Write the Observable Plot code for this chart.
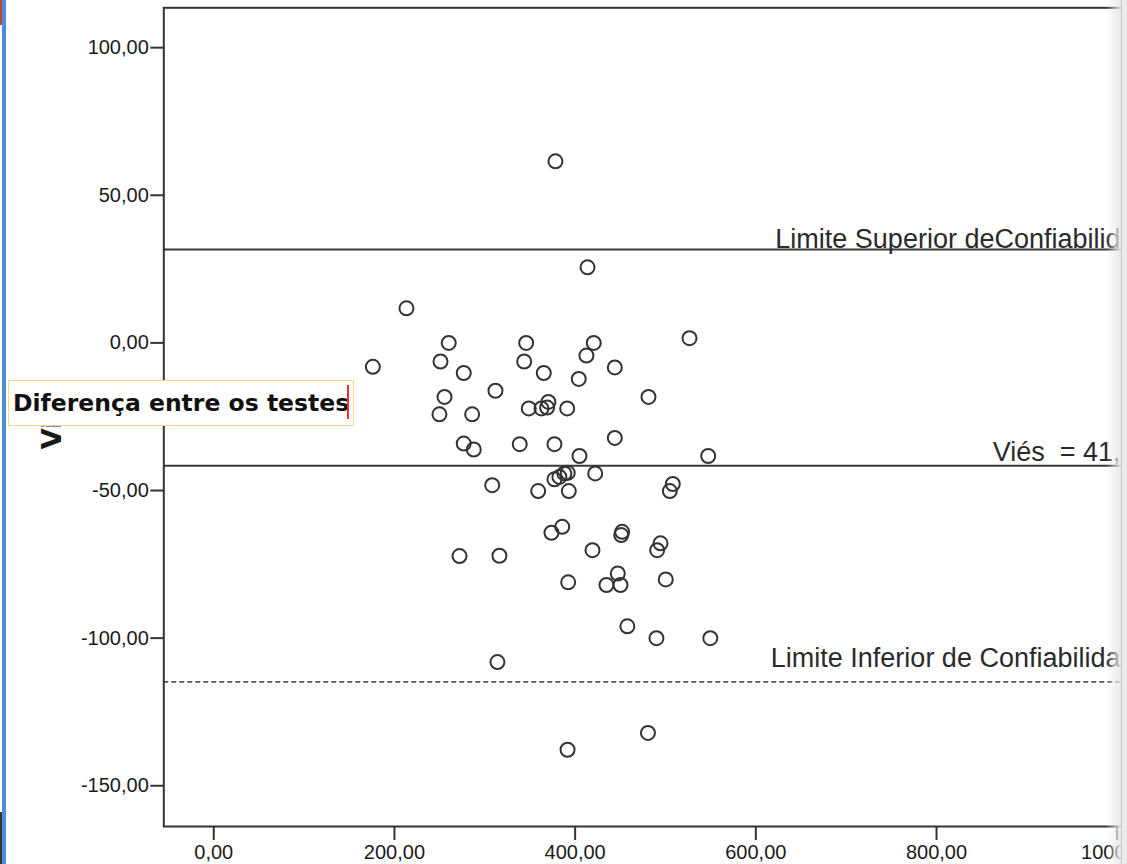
<!DOCTYPE html>
<html>
<head>
<meta charset="utf-8">
<script src="https://cdn.jsdelivr.net/npm/d3@7"></script>
<script src="https://cdn.jsdelivr.net/npm/@observablehq/plot@0.6"></script>
<style>
  html, body { margin: 0; padding: 0; background: #fff; width: 1127px; height: 864px; overflow: hidden; }
  #chart { position: absolute; left: 0; top: 0; }
  #box {
    position: absolute; left: 8px; top: 380px; width: 340px; height: 44px;
    border: 1.5px solid #f5d88c; background: #fff;
    font-family: "DejaVu Sans", sans-serif; font-weight: bold; font-size: 23.5px;
    color: #111; line-height: 44px; padding-left: 4px; box-sizing: content-box; white-space: nowrap;
  }
  #caret { position: absolute; left: 338px; top: 4px; width: 1.5px; height: 34px; background: #e33; }
  #leftbar { position: absolute; left: 2px; top: 0; width: 4px; height: 864px; background: #4a8fd8; }
  #leftred { position: absolute; left: 0; top: 0; width: 2px; height: 25px; background: #c0452a; }
  #leftdark { position: absolute; left: 0; top: 812px; width: 2px; height: 52px; background: #333; }
  #fade { position: absolute; left: 1106px; top: 0; width: 15px; height: 864px;
          background: linear-gradient(to right, rgba(240,240,240,0), rgba(232,232,232,0.95)); }
  #rightbar { position: absolute; left: 1121px; top: 0; width: 6px; height: 864px;
              background: #ececec; border-left: 1px solid #c9c9c9; }
</style>
</head>
<body>
<div id="chart"></div>
<div id="leftred"></div>
<div id="leftdark"></div>
<div id="leftbar"></div>
<div id="fade"></div>
<div id="rightbar"></div>
<script>
// Mean of the two tests (x) and difference between them (y)
const meanValues = [378.2, 413.7, 213.3, 526.6, 260.1, 345.8, 420.6, 412.5, 251.0, 343.6,
  176.1, 443.9, 276.7, 365.3, 404.0, 311.8, 255.4, 481.2, 370.4, 348.7,
  362.7, 369.0, 391.2, 249.8, 286.0, 443.9, 276.7, 287.8, 338.7, 377.1,
  404.8, 547.3, 377.1, 382.6, 388.1, 391.8, 422.2, 308.2, 508.1, 359.1,
  393.0, 504.8, 385.7, 373.8, 452.0, 451.0, 494.5, 490.8, 419.2, 272.0,
  316.2, 447.2, 500.3, 392.3, 434.7, 450.2, 457.8, 490.0, 549.6, 314.0,
  480.6, 391.6];
const diffValues = [61.5, 25.6, 11.7, 1.6, 0.0, 0.0, 0.0, -4.3, -6.3, -6.3,
  -8.1, -8.3, -10.2, -10.2, -12.2, -16.2, -18.3, -18.3, -20.0, -22.2,
  -22.2, -21.9, -22.2, -24.2, -24.2, -32.2, -34.1, -36.1, -34.3, -34.3,
  -38.3, -38.3, -46.2, -45.4, -44.2, -44.0, -44.2, -48.2, -47.8, -50.2,
  -50.2, -50.2, -62.3, -64.3, -64.0, -65.1, -67.9, -70.2, -70.2, -72.2,
  -72.1, -78.1, -80.1, -81.1, -82.0, -82.0, -96.0, -100.0, -100.0, -108.1,
  -132.1, -137.8];

const xTicks = [0, 200, 400, 600, 800, 1000];
const yTicks = [-150, -100, -50, 0, 50, 100];

const upperLimit = 31.6;
const bias = -41.6;
const lowerLimit = -114.8;

const upperLabel = "Limite Superior deConfiabilid";
const biasLabel = "Viés  = 41,";
const lowerLabel = "Limite Inferior de Confiabilida";
const yLabel = "Viés";
const boxText = "Diferença entre os testes";

const fmt = d => d.toFixed(2).replace(".", ",");
const points = meanValues.map((m, i) => ({mean: m, diff: diffValues[i]}));
const labelFont = "'Liberation Sans', Arial, sans-serif";

const chart = Plot.plot({
  width: 1127,
  height: 864,
  marginLeft: 163.3,
  marginTop: 7.3,
  marginRight: 0,
  marginBottom: 38,
  x: {domain: [-55.3, 1011.4]},
  y: {domain: [-163.8, 113.5]},
  style: {fontFamily: labelFont, fontSize: "20px", color: "#1a1a1a", background: "#fff"},
  marks: [
    Plot.ruleY([upperLimit, bias], {stroke: "#3a3a3a", strokeWidth: 2}),
    Plot.ruleY([lowerLimit], {stroke: "#555", strokeWidth: 1.6, strokeDasharray: "5,3"}),
    Plot.dot(points, {x: "mean", y: "diff", r: 7, stroke: "#333", strokeWidth: 2, fill: "none"}),
    Plot.text([{t: upperLabel, v: upperLimit}], {y: "v", text: "t", frameAnchor: "right", textAnchor: "end",
      lineAnchor: "bottom", dx: -7, dy: -2, fontSize: 27, fill: "#2a2a2a"}),
    Plot.text([{t: biasLabel, v: bias}], {y: "v", text: "t", frameAnchor: "right", textAnchor: "end",
      lineAnchor: "bottom", dx: -7, dy: -5, fontSize: 27, fill: "#2a2a2a"}),
    Plot.text([{t: lowerLabel, v: lowerLimit}], {y: "v", text: "t", frameAnchor: "right", textAnchor: "end",
      lineAnchor: "bottom", dx: -7, dy: -15, fontSize: 27, fill: "#2a2a2a"}),
    Plot.text([yLabel], {text: d => d, frameAnchor: "left", rotate: -90, textAnchor: "middle",
      lineAnchor: "bottom", dx: -103, fontSize: 27, fontWeight: "bold", fontFamily: "DejaVu Sans", fill: "#1a1a1a"}),
    Plot.axisX({ticks: xTicks, tickFormat: fmt, tickSize: 14, tickPadding: 4, strokeWidth: 2, stroke: "#333", label: null}),
    Plot.axisY({ticks: yTicks, tickFormat: fmt, tickSize: 13, tickPadding: 2, strokeWidth: 2, stroke: "#333", label: null}),
    Plot.frame({stroke: "#333", strokeWidth: 2})
  ]
});
document.getElementById("chart").appendChild(chart);

const box = document.createElement("div");
box.id = "box";
box.textContent = boxText;
const caret = document.createElement("div");
caret.id = "caret";
box.appendChild(caret);
document.body.appendChild(box);
</script>
</body>
</html>
